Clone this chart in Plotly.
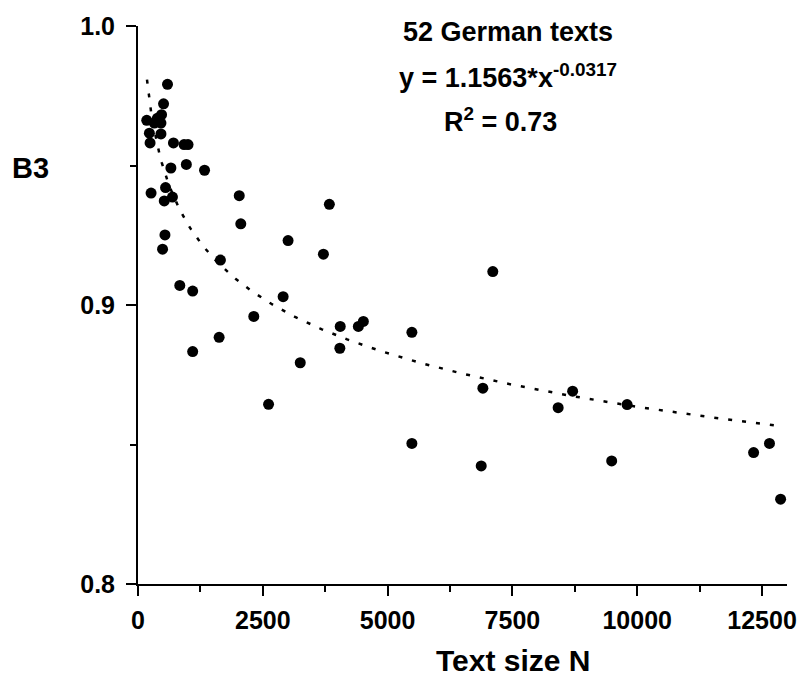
import numpy as np
import plotly.graph_objects as go

# Text size N and B3 value for each of the 52 German texts
text_size = [175, 327, 460, 228, 460, 242, 472, 512, 591, 710,
             923, 1002, 659, 968, 1333, 262, 552, 526, 690, 2028,
             2059, 540, 492, 3006, 1651, 837, 1095, 2907, 2319, 1625,
             1095, 3714, 3833, 4051, 4414, 4514, 4043, 3250, 2615, 7107,
             5486, 6908, 8706, 8416, 9797, 5486, 6875, 9488, 12331, 12649,
             12872, 387]
b3 = [0.9662, 0.9652, 0.9652, 0.9616, 0.9613, 0.9581, 0.9682, 0.9721, 0.9791, 0.9581,
      0.9575, 0.9575, 0.9491, 0.9504, 0.9483, 0.9401, 0.9421, 0.9373, 0.9387, 0.9392,
      0.9291, 0.9251, 0.9200, 0.9231, 0.9161, 0.9070, 0.9050, 0.9030, 0.8959, 0.8884,
      0.8833, 0.9182, 0.9361, 0.8923, 0.8923, 0.8941, 0.8845, 0.8793, 0.8644, 0.9120,
      0.8902, 0.8702, 0.8691, 0.8632, 0.8643, 0.8504, 0.8423, 0.8441, 0.8471, 0.8504,
      0.8304, 0.9669]

# Power-law fit y = a * x^b
fit_a = 1.1563
fit_b = -0.0317
fit_r2 = 0.73
fit_x = np.linspace(180, 12800, 300)
fit_y = fit_a * fit_x ** fit_b

x_ticks = [0, 2500, 5000, 7500, 10000, 12500]
y_ticks = [0.8, 0.9, 1.0]

FONT = "Liberation Sans, Arial, sans-serif"

fig = go.Figure()
fig.add_trace(go.Scatter(
    x=fit_x, y=fit_y, mode="lines",
    line=dict(color="black", width=2.5, dash="4px,10px"),
    hoverinfo="skip", showlegend=False,
))
fig.add_trace(go.Scatter(
    x=text_size, y=b3, mode="markers",
    marker=dict(color="black", size=11, line=dict(width=0)),
    showlegend=False,
))

axis_common = dict(
    showline=True, linecolor="black", linewidth=2,
    ticks="outside", ticklen=10, tickwidth=2, tickcolor="black",
    showgrid=False, zeroline=False,
    tickfont=dict(family=FONT, size=25, color="black", weight="bold"),
)

fig.update_xaxes(
    range=[0, 13000], tickvals=x_ticks, ticktext=[str(v) for v in x_ticks],
    minor=dict(ticks="outside", ticklen=6, tickwidth=2, tickcolor="black", dtick=1250, tick0=0),
    ticklabelstandoff=3,
    **axis_common,
)
fig.update_yaxes(
    range=[0.8, 1.0], tickvals=y_ticks, ticktext=[f"{v:.1f}" for v in y_ticks],
    minor=dict(ticks="outside", ticklen=6, tickwidth=2, tickcolor="black", dtick=0.05, tick0=0.8),
    ticklabelstandoff=6,
    **axis_common,
)

ann_font = dict(family=FONT, size=27, color="black", weight="bold")
fig.add_annotation(text="52 German texts", xref="paper", yref="paper",
                   x=0.57, y=0.99, xanchor="center", yanchor="middle",
                   showarrow=False, font=ann_font)
fig.add_annotation(text=f"y = {fit_a:.4f}*x<sup>{fit_b:.4f}</sup>", xref="paper", yref="paper",
                   x=0.57, y=0.91, xanchor="center", yanchor="middle",
                   showarrow=False, font=ann_font)
fig.add_annotation(text=f"R<sup>2</sup> = {fit_r2:.2f}", xref="paper", yref="paper",
                   x=0.559, y=0.832, xanchor="center", yanchor="middle",
                   showarrow=False, font=ann_font)

# Axis titles
fig.add_annotation(text="B3", xref="paper", yref="paper",
                   x=-0.1655, y=0.745, xanchor="center", yanchor="middle",
                   showarrow=False, font=dict(family=FONT, size=29, color="black", weight="bold"))
fig.add_annotation(text="Text size N", xref="paper", yref="paper",
                   x=0.579, y=-0.1375, xanchor="center", yanchor="middle",
                   showarrow=False, font=dict(family=FONT, size=30, color="black", weight="bold"))

fig.update_layout(
    width=809, height=679,
    margin=dict(l=138, r=15, t=24, b=95),
    plot_bgcolor="white", paper_bgcolor="white",
    showlegend=False,
)

fig.write_html("out.html")
